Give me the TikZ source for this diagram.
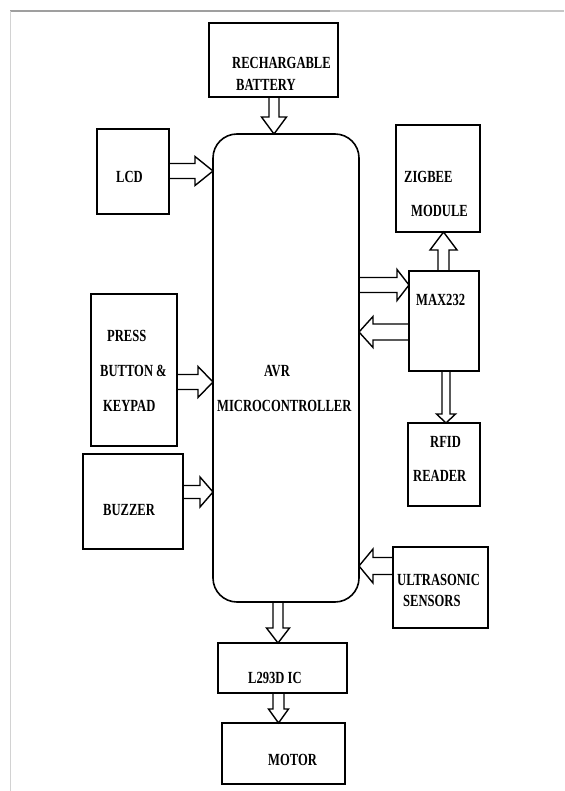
\documentclass[tikz,border=0pt]{standalone}
\usepackage{fontspec}
\setmainfont{Liberation Serif}[FakeStretch=0.74]
\usetikzlibrary{calc}
\tikzset{
  box/.style={draw, line width=1.6pt, inner sep=0pt, outer sep=0pt},
  lbl/.style={anchor=west, inner sep=0pt, font=\fontsize{17}{19}\selectfont\bfseries},
  harrow/.style={draw, line width=1.4pt, line join=miter},
}
% horizontal hollow arrow: from, to, shaft half, head half, head length, dir (1 right / -1 left)
\newcommand\HArrow[6]{\draw[harrow] let \p1=(#1),\p2=(#2) in
  (\x1,{\y1+#3pt}) -- ({\x2-(#6)*#5pt},{\y1+#3pt}) -- ({\x2-(#6)*#5pt},{\y1+#4pt}) -- (\p2)
  -- ({\x2-(#6)*#5pt},{\y1-#4pt}) -- ({\x2-(#6)*#5pt},{\y1-#3pt}) -- (\x1,{\y1-#3pt});}
% vertical hollow arrow: from, to, shaft half, head half, head length, dir (1 down / -1 up)
\newcommand\VArrow[6]{\draw[harrow] let \p1=(#1),\p2=(#2) in
  ({\x1+#3pt},\y1) -- ({\x1+#3pt},{\y2+(#6)*#5pt}) -- ({\x1+#4pt},{\y2+(#6)*#5pt}) -- (\p2)
  -- ({\x1-#4pt},{\y2+(#6)*#5pt}) -- ({\x1-#3pt},{\y2+(#6)*#5pt}) -- ({\x1-#3pt},\y1);}
\begin{document}
\begin{tikzpicture}[x=1pt,y=-1pt]
\useasboundingbox (0,0) rectangle (564,791);
% frame
\draw[gray!75, line width=1.2pt] (10,11) -- (330,11);
\draw[gray!45, line width=1.2pt] (330,11) -- (564,11);
\draw[gray!35, line width=1.2pt] (10.5,11) -- (10.5,791);
% blocks
\node[box, minimum width=129, minimum height=74] (bat) at (273.5,60) {};
\node[box, rounded corners=24pt, minimum width=146, minimum height=468] (mcu) at (286,368) {};
\node[box, minimum width=72, minimum height=85] (lcd) at (133,171.5) {};
\node[box, minimum width=86, minimum height=152] (press) at (134,370) {};
\node[box, minimum width=100, minimum height=95] (buz) at (133,501.5) {};
\node[box, minimum width=84, minimum height=107] (zig) at (438,178.5) {};
\node[box, minimum width=70, minimum height=100] (max) at (444,321) {};
\node[box, minimum width=72, minimum height=83] (rfid) at (444,464.5) {};
\node[box, minimum width=95, minimum height=81] (ultra) at (440.5,587.5) {};
\node[box, minimum width=129, minimum height=50] (l293) at (282.5,668) {};
\node[box, minimum width=123, minimum height=61] (motor) at (283.5,753.5) {};
% labels
\node[lbl] (t1) at (232,63) {RECHARGABLE};
\node[lbl] (t2) at (236,85) {BATTERY};
\node[lbl] (t3) at (116,177) {LCD};
\node[lbl] (t4) at (404,177) {ZIGBEE};
\node[lbl] (t5) at (411,211) {MODULE};
\node[lbl] (t6) at (416,300) {MAX232};
\node[lbl] (t7) at (107,336) {PRESS};
\node[lbl] (t8) at (100,371) {BUTTON \&};
\node[lbl] (t9) at (103,406) {KEYPAD};
\node[lbl] (t10) at (264,371) {AVR};
\node[lbl] (t11) at (217,406) {MICROCONTROLLER};
\node[lbl] (t12) at (430,442) {RFID};
\node[lbl] (t13) at (413,476) {READER};
\node[lbl] (t14) at (103,510) {BUZZER};
\node[lbl] (t15) at (397,580) {ULTRASONIC};
\node[lbl] (t16) at (403,601) {SENSORS};
\node[lbl] (t17) at (248,678) {L293D IC};
\node[lbl] (t18) at (268,760) {MOTOR};
% arrow end points
\coordinate (a1s) at (bat.south -| 274,0);
\coordinate (a1e) at (mcu.north -| 274,0);
\coordinate (a2s) at (lcd.east |- 0,171);
\coordinate (a2e) at (mcu.west |- 0,171);
\coordinate (a3s) at (mcu.east |- 0,285);
\coordinate (a3e) at (max.west |- 0,285);
\coordinate (a4s) at (max.west |- 0,332);
\coordinate (a4e) at (mcu.east |- 0,332);
\coordinate (a5s) at (max.north -| 443.5,0);
\coordinate (a5e) at (zig.south -| 443.5,0);
\coordinate (a6s) at (max.south -| 446,0);
\coordinate (a6e) at (rfid.north -| 446,0);
\coordinate (a7s) at (press.east |- 0,382);
\coordinate (a7e) at (mcu.west |- 0,382);
\coordinate (a8s) at (buz.east |- 0,492);
\coordinate (a8e) at (mcu.west |- 0,492);
\coordinate (a9s) at (ultra.west |- 0,566);
\coordinate (a9e) at (mcu.east |- 0,566);
\coordinate (a10s) at (mcu.south -| 278,0);
\coordinate (a10e) at (l293.north -| 278,0);
\coordinate (a11s) at (l293.south -| 278.5,0);
\coordinate (a11e) at (motor.north -| 278.5,0);
% hollow arrows
\VArrow{a1s}{a1e}{5}{12.5}{17}{1}
\HArrow{a2s}{a2e}{7.5}{14.5}{18}{1}
\HArrow{a3s}{a3e}{7.5}{15.5}{12}{1}
\HArrow{a4s}{a4e}{8}{15.5}{14}{-1}
\VArrow{a5s}{a5e}{5.5}{13.5}{18}{-1}
\VArrow{a6s}{a6e}{4}{9.5}{9}{1}
\HArrow{a7s}{a7e}{7.5}{15.5}{15}{1}
\HArrow{a8s}{a8e}{6.5}{15}{13}{1}
\HArrow{a9s}{a9e}{8.5}{17}{14}{-1}
\VArrow{a10s}{a10e}{5}{11.5}{15}{1}
\VArrow{a11s}{a11e}{5.5}{10}{14}{1}
\end{tikzpicture}
\end{document}
